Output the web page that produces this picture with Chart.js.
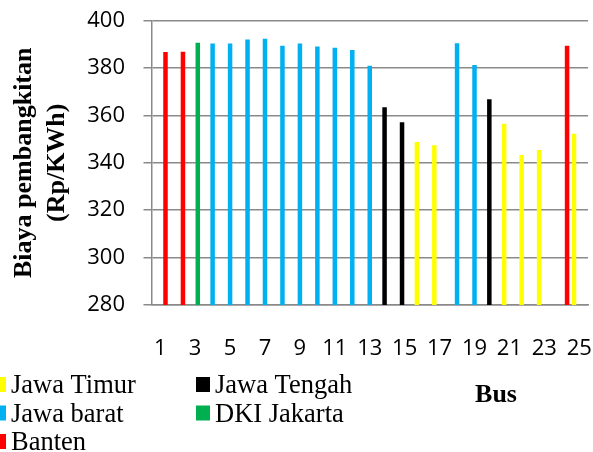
<!DOCTYPE html>
<html>
<head>
<meta charset="utf-8">
<script src="https://cdn.jsdelivr.net/npm/chart.js@4/dist/chart.umd.min.js"></script>
<style>
  html, body { margin: 0; padding: 0; background: #ffffff; }
  #wrap { width: 593px; height: 452px; }
</style>
</head>
<body>
<div id="wrap"><canvas id="c" width="593" height="452"></canvas></div>
<script>
// Bus numbers along the x axis
const buses = [1, 2, 3, 4, 5, 6, 7, 8, 9, 10, 11, 12, 13, 14, 15, 16, 17, 18, 19, 20, 21, 22, 23, 24, 25];
// Only every other bus number is printed under the axis
const busTickLabels = ['1', '', '3', '', '5', '', '7', '', '9', '', '11', '', '13', '', '15', '', '17', '', '19', '', '21', '', '23', '', '25'];
// Generation cost per bus (Rp/KWh)
const busCost = [386.7, 386.8, 390.6, 390.3, 390.3, 392.0, 392.3, 389.3, 390.3, 389.0, 388.5, 387.6, 380.9,
                 363.4, 357.1, 348.8, 347.4, 390.4, 381.2, 366.8, 356.5, 343.3, 345.4, 389.4, 352.2];
// Province each bus belongs to
const busRegion = ['Banten', 'Banten', 'DKI Jakarta', 'Jawa barat', 'Jawa barat', 'Jawa barat', 'Jawa barat',
                   'Jawa barat', 'Jawa barat', 'Jawa barat', 'Jawa barat', 'Jawa barat', 'Jawa barat',
                   'Jawa Tengah', 'Jawa Tengah', 'Jawa Timur', 'Jawa Timur', 'Jawa barat', 'Jawa barat',
                   'Jawa Tengah', 'Jawa Timur', 'Jawa Timur', 'Jawa Timur', 'Banten', 'Jawa Timur'];
// Series order and colours
const regions = ['Jawa Timur', 'Jawa Tengah', 'Jawa barat', 'DKI Jakarta', 'Banten'];
const regionColors = ['#FFFF00', '#000000', '#00B0F0', '#00B050', '#FF0000'];
// Value axis
const yTicks = [280, 300, 320, 340, 360, 380, 400];
const yTitle = ['Biaya pembangkitan', '(Rp/KWh)'];
const xTitle = 'Bus';

const gridGray = '#8a8a8a';

// One dataset per province; buses of other provinces stay empty
const datasets = regions.map((name, k) => ({
  label: name,
  data: buses.map((b, i) => busRegion[i] === name ? busCost[i] : null),
  backgroundColor: regionColors[k],
  borderWidth: 0,
  categoryPercentage: 0.754,
  barPercentage: 1.71
}));

// Keep the plot area fixed: the scales add no extra edge padding of their own
const noEdgePadding = s => {
  s.paddingTop = 0; s.paddingBottom = 0; s.paddingLeft = 0; s.paddingRight = 0;
};

// Custom two-column legend at the lower left and the x-axis caption
const overlay = {
  id: 'overlay',
  afterDraw(chart) {
    const ctx = chart.ctx;
    ctx.save();
    ctx.font = '26.5px "Liberation Serif"';
    ctx.textBaseline = 'alphabetic';
    ctx.textAlign = 'left';
    chart.data.datasets.forEach((ds, i) => {
      const col = i % 2, row = Math.floor(i / 2);
      const tx = [11, 215][col];
      const base = 393 + row * 28.5;
      ctx.fillStyle = ds.backgroundColor;
      ctx.fillRect(tx - 19, base - 16, 14, 15);
      ctx.fillStyle = '#000000';
      ctx.fillText(ds.label, tx, base);
    });
    ctx.font = 'bold 26px "Liberation Serif"';
    ctx.textAlign = 'center';
    ctx.fillText(xTitle, 496, 401.5);
    ctx.restore();
  }
};

new Chart(document.getElementById('c'), {
  type: 'bar',
  data: { labels: buses, datasets },
  plugins: [overlay],
  options: {
    responsive: false,
    animation: false,
    layout: { autoPadding: false, padding: { left: 0, right: 5, top: 20.5, bottom: 0 } },
    plugins: { legend: { display: false }, tooltip: { enabled: false } },
    scales: {
      x: {
        grid: { display: false, drawTicks: false, tickLength: 0 },
        border: { display: true, color: gridGray, width: 1.5 },
        ticks: {
          autoSkip: false, maxRotation: 0, minRotation: 0,
          padding: 31,
          color: '#000000',
          font: { family: '"Open Sans"', size: 22 },
          callback: (v, i) => busTickLabels[i]
        },
        afterFit: s => { s.height = 147; noEdgePadding(s); }
      },
      y: {
        min: 280, max: 400,
        afterBuildTicks: s => { s.ticks = yTicks.map(v => ({ value: v })); },
        grid: { color: gridGray, lineWidth: 1.5, tickLength: 8, drawTicks: true },
        border: { display: true, color: gridGray, width: 1.5 },
        ticks: {
          padding: 18.5,
          color: '#000000',
          font: { family: '"Open Sans"', size: 22 }
        },
        title: {
          display: true,
          text: yTitle,
          color: '#000000',
          font: { family: '"Liberation Serif"', size: 26, weight: 'bold', lineHeight: 1.27 },
          padding: { top: 7.5, bottom: 0 }
        },
        afterFit: s => { s.width = 151.5; noEdgePadding(s); }
      }
    }
  }
});
</script>
</body>
</html>
